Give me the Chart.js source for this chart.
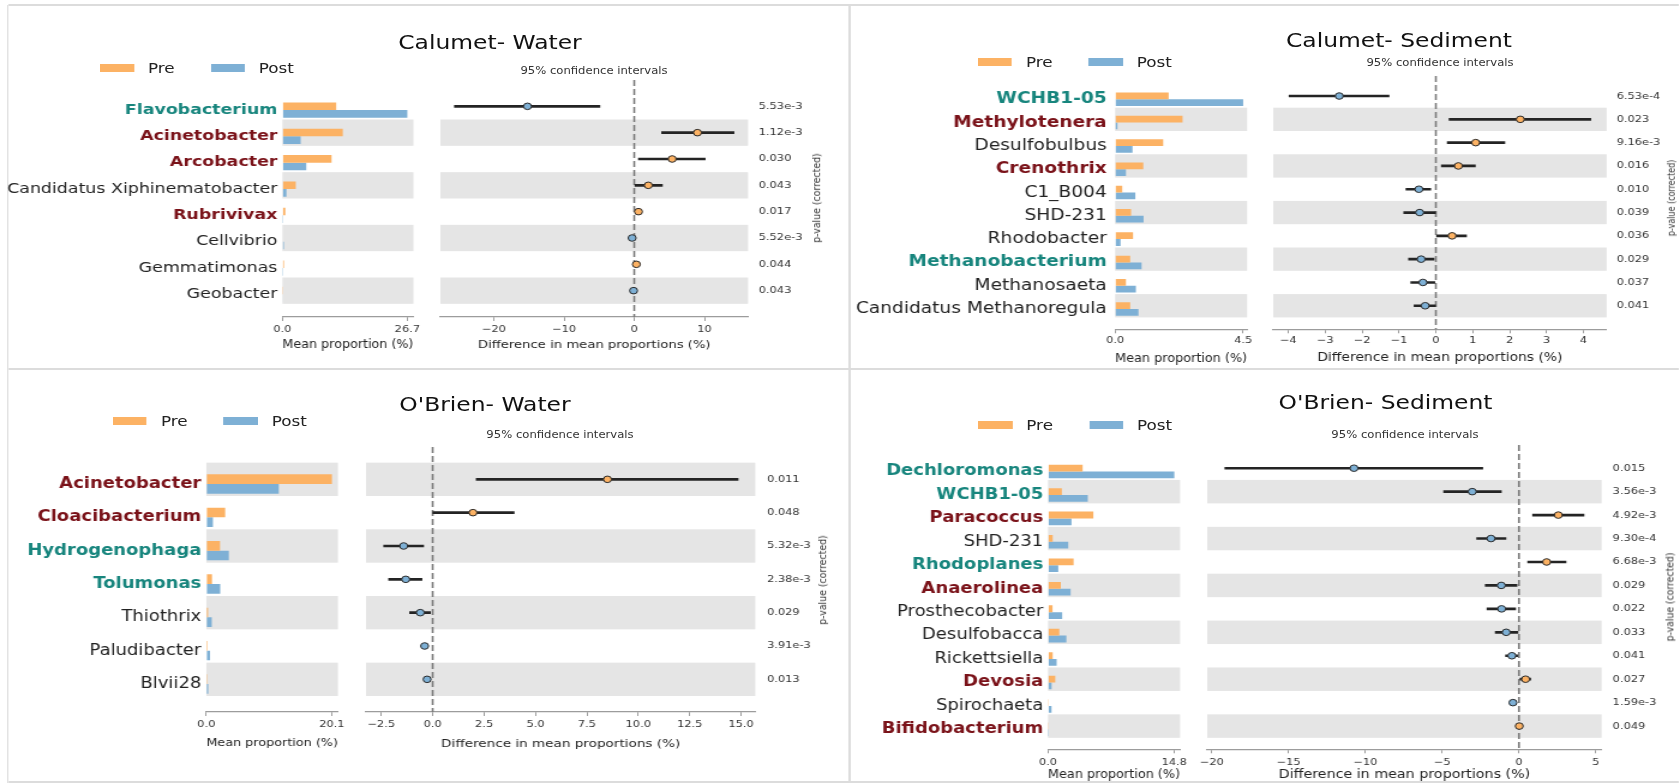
<!DOCTYPE html>
<html lang="en">
<head>
<meta charset="utf-8">
<title>Pre vs Post genus shifts – Calumet and O'Brien</title>
<script src="https://cdn.jsdelivr.net/npm/chart.js@4.4.1/dist/chart.umd.min.js"></script>
<style>
  html, body { margin: 0; padding: 0; background: #fff; }
  body { width: 1679px; height: 783px; overflow: hidden; position: relative;
         font-family: 'DejaVu Sans', sans-serif; color: #222; }
  #sheet { position: absolute; left: 0; top: 0; height: 783px; transform-origin: 0 0; }
  #sheet > * { position: absolute; }
  .txt { white-space: nowrap; line-height: 1; }
  .rule { background: #dcdcdc; }
  .legend { display: flex; align-items: center; white-space: nowrap; line-height: 1; }
  .legend .sw { display: inline-block; height: 8px; }
</style>
</head>
<body>
<div id="sheet"></div>
<script>
// ---------------------------------------------------------------------------
// Data
// ---------------------------------------------------------------------------
const SERIES = ['Pre', 'Post'];

// Calumet – water
const calWaterTaxa = ['Flavobacterium', 'Acinetobacter', 'Arcobacter', 'Candidatus Xiphinematobacter',
                      'Rubrivivax', 'Cellvibrio', 'Gemmatimonas', 'Geobacter'];
const calWaterMarks = ['A', 'B', 'B', '', 'B', '', '', ''];
const calWaterPre   = [11.5, 12.9, 10.5, 2.85, 0.62, 0.0, 0.32, 0.04];
const calWaterPost  = [26.7, 3.9, 5.1, 0.85, 0.02, 0.3, 0.02, 0.14];
const calWaterDiff  = [-15.2, 9.0, 5.4, 2.0, 0.6, -0.3, 0.3, -0.1];
const calWaterCiLow = [-25.6, 3.9, 0.6, 0.1, 0.35, -0.45, 0.1, -0.17];
const calWaterCiHigh= [-4.9, 14.2, 10.1, 4.0, 0.85, -0.12, 0.5, -0.03];
const calWaterP     = ['5.53e-3', '1.12e-3', '0.030', '0.043', '0.017', '5.52e-3', '0.044', '0.043'];
const calWaterMeanTicks = [0.0, 26.7];
const calWaterMeanMax   = 28.0;
const calWaterDiffTicks = [-20, -10, 0, 10];
const calWaterDiffRange = [-27.6, 16.2];

// Calumet – sediment
const calSedTaxa = ['WCHB1-05', 'Methylotenera', 'Desulfobulbus', 'Crenothrix', 'C1_B004', 'SHD-231',
                    'Rhodobacter', 'Methanobacterium', 'Methanosaeta', 'Candidatus Methanoregula'];
const calSedMarks = ['A', 'B', '', 'B', '', '', '', 'A', '', ''];
const calSedPre   = [1.88, 2.37, 1.69, 0.99, 0.25, 0.56, 0.63, 0.53, 0.38, 0.53];
const calSedPost  = [4.5, 0.08, 0.61, 0.38, 0.71, 1.0, 0.19, 0.93, 0.73, 0.82];
const calSedDiff  = [-2.62, 2.29, 1.08, 0.61, -0.46, -0.44, 0.44, -0.40, -0.35, -0.29];
const calSedCiLow = [-3.98, 0.36, 0.31, 0.15, -0.81, -0.87, 0.02, -0.74, -0.68, -0.59];
const calSedCiHigh= [-1.27, 4.2, 1.87, 1.07, -0.14, -0.01, 0.83, -0.05, -0.03, -0.01];
const calSedP     = ['6.53e-4', '0.023', '9.16e-3', '0.016', '0.010', '0.039', '0.036', '0.029', '0.037', '0.041'];
const calSedMeanTicks = [0.0, 4.5];
const calSedMeanMax   = 4.64;
const calSedDiffTicks = [-4, -3, -2, -1, 0, 1, 2, 3, 4];
const calSedDiffRange = [-4.41, 4.63];

// O'Brien – water
const obWaterTaxa = ['Acinetobacter', 'Cloacibacterium', 'Hydrogenophaga', 'Tolumonas',
                     'Thiothrix', 'Paludibacter', 'Blvii28'];
const obWaterMarks = ['B', 'B', 'A', 'A', '', '', ''];
const obWaterPre   = [20.1, 3.02, 2.19, 0.91, 0.27, 0.2, 0.03];
const obWaterPost  = [11.6, 1.06, 3.6, 2.22, 0.87, 0.59, 0.3];
const obWaterDiff  = [8.5, 1.96, -1.41, -1.31, -0.6, -0.39, -0.27];
const obWaterCiLow = [2.12, 0.01, -2.38, -2.14, -1.12, -0.5, -0.35];
const obWaterCiHigh= [14.85, 3.96, -0.44, -0.52, -0.11, -0.28, -0.19];
const obWaterP     = ['0.011', '0.048', '5.32e-3', '2.38e-3', '0.029', '3.91e-3', '0.013'];
const obWaterMeanTicks = [0.0, 20.1];
const obWaterMeanMax   = 21.06;
const obWaterDiffTicks = [-2.5, 0, 2.5, 5, 7.5, 10, 12.5, 15];
const obWaterDiffRange = [-3.24, 15.69];

// O'Brien – sediment
const obSedTaxa = ['Dechloromonas', 'WCHB1-05', 'Paracoccus', 'SHD-231', 'Rhodoplanes', 'Anaerolinea',
                   'Prosthecobacter', 'Desulfobacca', 'Rickettsiella', 'Devosia', 'Spirochaeta', 'Bifidobacterium'];
const obSedMarks = ['A', 'A', 'B', '', 'A', 'B', '', '', '', 'B', '', 'B'];
const obSedPre   = [4.06, 1.62, 5.31, 0.55, 3.0, 1.5, 0.53, 1.32, 0.55, 0.85, 0.02, 0.03];
const obSedPost  = [14.8, 4.66, 2.75, 2.37, 1.2, 2.65, 1.66, 2.15, 1.01, 0.42, 0.41, 0.01];
const obSedDiff  = [-10.74, -3.04, 2.56, -1.82, 1.8, -1.15, -1.13, -0.83, -0.46, 0.43, -0.39, 0.02];
const obSedCiLow = [-19.14, -4.9, 0.89, -2.75, 0.57, -2.19, -2.08, -1.54, -0.87, 0.07, -0.55, 0.0];
const obSedCiHigh= [-2.36, -1.15, 4.23, -0.85, 3.06, -0.13, -0.22, -0.07, -0.09, 0.76, -0.25, 0.05];
const obSedP     = ['0.015', '3.56e-3', '4.92e-3', '9.30e-4', '6.68e-3', '0.029', '0.022', '0.033',
                    '0.041', '0.027', '1.59e-3', '0.049'];
const obSedMeanTicks = [0.0, 14.8];
const obSedMeanMax   = 15.47;
const obSedDiffTicks = [-20, -15, -10, -5, 0, 5];
const obSedDiffRange = [-20.29, 5.38];

// ---------------------------------------------------------------------------
// Styling
// ---------------------------------------------------------------------------
const S = 1.2;                       // horizontal stretch of the whole sheet
const U = x => x / S;                // sheet x -> unstretched css px
const SERIES_COLORS = ['#fcb264', '#7eb0d5'];
const MARK_COLORS = { A: '#17857d', B: '#7a1219' };
const LABEL_COLOR = '#222';
const BAND = '#e5e5e5';
const AXIS_COLOR = '#9c9c9c';
const TICK_LEN = 4;
const TICK_SIZE = 9.5;
const BAR_SHIFT = 0.14;              // bars sit slightly below the band centre

Chart.defaults.font.family = "'DejaVu Sans', sans-serif";
Chart.defaults.color = '#333';

const sheet = document.getElementById('sheet');
sheet.style.width = U(1679) + 'px';
sheet.style.transform = `scaleX(${S})`;

// Alternating grey row bands (last row always shaded)
const rowBands = {
  id: 'rowBands',
  beforeDatasetsDraw(chart, _a, o) {
    const { ctx, chartArea: a } = chart; const y = chart.scales.y;
    ctx.save(); ctx.fillStyle = o.color;
    for (let i = 0; i < o.count; i++) {
      if ((o.count - 1 - i) % 2) continue;
      const t = y.getPixelForValue(i - 0.5 + o.shift), b = y.getPixelForValue(i + 0.5 + o.shift);
      ctx.fillRect(a.left, Math.min(t, b), a.right - a.left, Math.abs(b - t));
    }
    ctx.restore();
  }
};

// Dashed reference line at zero difference
const zeroLine = {
  id: 'zeroLine',
  beforeDatasetsDraw(chart, _a, o) {
    const { ctx, chartArea: a } = chart; const x = chart.scales.x.getPixelForValue(0);
    ctx.save(); ctx.strokeStyle = o.color; ctx.lineWidth = o.width; ctx.setLineDash(o.dash);
    ctx.beginPath(); ctx.moveTo(x, a.top); ctx.lineTo(x, a.bottom); ctx.stroke(); ctx.restore();
  }
};

const BASE = {
  responsive: false, animation: false, devicePixelRatio: 1, events: [],
};

function addCanvas(x0, y0, x1, y1) {
  const c = document.createElement('canvas');
  const w = Math.round(U(x1) - U(x0)), h = Math.round(y1 - y0);
  c.width = w; c.height = h;
  c.style.cssText = `left:${U(x0)}px;top:${y0}px;width:${w}px;height:${h}px;`;
  sheet.appendChild(c);
  return c;
}

function addText(str, cx, cy, size, color, rot) {
  const el = document.createElement('div');
  el.className = 'txt'; el.textContent = str;
  el.style.left = U(cx) + 'px'; el.style.top = cy + 'px';
  el.style.fontSize = size + 'px'; el.style.color = color;
  el.style.transform = 'translate(-50%,-50%)' + (rot ? ` rotate(${rot}deg)` : '');
  sheet.appendChild(el);
}

function addLegend(x, cy) {
  const el = document.createElement('div');
  el.className = 'legend';
  el.style.left = U(x) + 'px'; el.style.top = cy + 'px'; el.style.transform = 'translateY(-50%)';
  SERIES.forEach((name, k) => {
    const sw = document.createElement('span');
    sw.className = 'sw'; sw.style.width = U(34) + 'px'; sw.style.background = SERIES_COLORS[k];
    sw.style.marginRight = U(14) + 'px';
    const tx = document.createElement('span');
    tx.textContent = name; tx.style.fontSize = '14px'; tx.style.color = '#222';
    if (k < SERIES.length - 1) tx.style.marginRight = U(36) + 'px';
    el.append(sw, tx);
  });
  sheet.appendChild(el);
}

function addRule(x0, y0, x1, y1) {
  const el = document.createElement('div');
  el.className = 'rule';
  if (y0 === y1) { el.style.cssText = `left:${U(x0)}px;top:${y0 - 0.75}px;width:${U(x1 - x0)}px;height:1.5px;`; }
  else { el.style.cssText = `left:${U(x0 - 0.75)}px;top:${y0}px;width:${U(1.5)}px;height:${y1 - y0}px;`; }
  sheet.appendChild(el);
}

const minusSign = s => String(s).replace('-', '\u2212');
const tickIdx = c => (c.tick ? c.tick.value : c.index);

function valueAxis(o) {
  return {
    type: 'linear', position: 'bottom', min: o.min, max: o.max, offset: false, bounds: 'data',
    afterBuildTicks: s => { s.ticks = o.ticks.map(v => ({ value: v })); },
    afterFit: s => { s.height = o.height; },
    grid: { display: true, drawOnChartArea: false, drawTicks: true, tickLength: TICK_LEN,
            tickColor: AXIS_COLOR, tickWidth: 1, offset: false },
    border: { display: true, color: AXIS_COLOR, width: 1.2 },
    ticks: { autoSkip: false, maxRotation: 0, minRotation: 0, padding: o.tickPad, color: '#333',
             font: { size: TICK_SIZE }, callback: o.fmt },
    title: { display: true, text: o.title, color: '#222', font: { size: o.titleSize },
             padding: { top: 0, bottom: o.titlePad } }
  };
}

// Left half of a panel: mean proportion bars per genus
function drawMeans(P, g, n) {
  const x0 = g.canvasLeft, x1 = g.barR + 16;
  const y0 = g.rowTop - 24, y1 = Math.min(g.meanTitleY + 11, 783);
  const cv = addCanvas(x0, y0, x1, y1);
  const W = cv.width, H = cv.height;
  new Chart(cv, {
    type: 'bar',
    data: {
      datasets: [P.pre, P.post].map((vals, k) => ({
        label: SERIES[k], data: vals.map((v, i) => ({ x: v, y: i })),
        backgroundColor: SERIES_COLORS[k], borderWidth: 0,
        categoryPercentage: 0.58, barPercentage: 1
      }))
    },
    options: {
      ...BASE, indexAxis: 'y',
      layout: { padding: { left: 0, top: g.rowTop - y0, right: W - (U(g.barR) - U(x0)), bottom: 0 } },
      plugins: { legend: { display: false }, tooltip: { enabled: false },
                 rowBands: { count: n, shift: -BAR_SHIFT, color: BAND } },
      scales: {
        x: valueAxis({
          min: 0, max: P.meanMax, ticks: P.meanTicks, fmt: v => v.toFixed(1),
          height: H - (g.rowBottom - y0),
          tickPad: g.tickY - g.rowBottom - TICK_LEN - 0.6 * TICK_SIZE,
          title: 'Mean proportion (%)', titleSize: g.meanTitleSize,
          titlePad: H - (g.meanTitleY - y0) - 0.6 * g.meanTitleSize
        }),
        y: {
          type: 'linear', position: 'left', reverse: true, offset: false, bounds: 'data',
          min: g.yMin - BAR_SHIFT, max: g.yMax - BAR_SHIFT,
          afterBuildTicks: s => { s.ticks = P.taxa.map((_, i) => ({ value: i })); },
          afterFit: s => { s.width = U(g.barL) - U(x0); },
          grid: { display: false, drawTicks: false }, border: { display: false },
          ticks: {
            autoSkip: false, padding: U(g.barL) - U(g.labelRight),
            callback: v => P.taxa[v],
            color: c => MARK_COLORS[P.marks[tickIdx(c)]] || LABEL_COLOR,
            font: c => ({ size: g.labelSize, weight: P.marks[tickIdx(c)] ? 'bold' : 'normal' })
          }
        }
      }
    },
    plugins: [rowBands]
  });
}

// Right half of a panel: difference in means with 95% CI, p-values on the right axis
function drawDiffs(P, g, n) {
  const x0 = g.forestL - 24, x1 = Math.min(g.forestR + 64, 1679);
  const y0 = g.rowTop - 24, y1 = Math.min(g.diffTitleY + 11, 783);
  const cv = addCanvas(x0, y0, x1, y1);
  const W = cv.width, H = cv.height;
  const fmt = v => minusSign(P.diffDecimals ? v.toFixed(P.diffDecimals) : String(v));
  new Chart(cv, {
    type: 'bar',
    data: {
      datasets: [
        { type: 'scatter', data: P.diff.map((v, i) => ({ x: v, y: i })),
          pointRadius: 3.3, pointBorderWidth: 1, pointBorderColor: '#2a2a2a',
          pointBackgroundColor: P.diff.map(v => (v >= 0 ? SERIES_COLORS[0] : SERIES_COLORS[1])),
          order: 0 },
        { type: 'bar', data: P.lo.map((l, i) => ({ x: [l, P.hi[i]], y: i })),
          backgroundColor: '#242424', borderWidth: 0, barThickness: 2, order: 1 }
      ]
    },
    options: {
      ...BASE, indexAxis: 'y',
      layout: { padding: { left: U(24), top: g.rowTop - y0, right: 0, bottom: 0 } },
      plugins: { legend: { display: false }, tooltip: { enabled: false },
                 rowBands: { count: n, shift: 0, color: BAND },
                 zeroLine: { color: '#7a7a7a', width: 1.6, dash: [6, 3] } },
      scales: {
        x: valueAxis({
          min: P.diffRange[0], max: P.diffRange[1], ticks: P.diffTicks, fmt,
          height: H - (g.rowBottom - y0),
          tickPad: g.tickY - g.rowBottom - TICK_LEN - 0.6 * TICK_SIZE,
          title: 'Difference in mean proportions (%)', titleSize: g.diffTitleSize,
          titlePad: H - (g.diffTitleY - y0) - 0.6 * g.diffTitleSize
        }),
        y: {
          type: 'linear', position: 'right', reverse: true, offset: false, bounds: 'data',
          min: g.yMin, max: g.yMax,
          afterBuildTicks: s => { s.ticks = P.pvals.map((_, i) => ({ value: i })); },
          afterFit: s => { s.width = W - (U(g.forestR) - U(x0)); },
          grid: { display: false, drawTicks: false }, border: { display: false },
          ticks: { autoSkip: false, padding: U(g.pX) - U(g.forestR), color: '#333',
                   font: { size: TICK_SIZE }, callback: v => P.pvals[v] }
        }
      }
    },
    plugins: [rowBands, zeroLine]
  });
}

// ---------------------------------------------------------------------------
// Panels
// ---------------------------------------------------------------------------
const PANELS = [
  { title: 'Calumet- Water', taxa: calWaterTaxa, marks: calWaterMarks, pre: calWaterPre, post: calWaterPost,
    diff: calWaterDiff, lo: calWaterCiLow, hi: calWaterCiHigh, pvals: calWaterP,
    meanTicks: calWaterMeanTicks, meanMax: calWaterMeanMax, diffTicks: calWaterDiffTicks,
    diffRange: calWaterDiffRange, diffDecimals: 0,
    geo: { titleX: 490, titleY: 43, legendX: 100, legendY: 68, rowTop: 80, rowBottom: 317, yMin: -1.0, yMax: 8.0,
           canvasLeft: 2, barL: 282, barR: 413, labelRight: 277, labelSize: 14.5,
           forestL: 440.7, forestR: 748.3, pX: 759, pLabelX: 816, pLabelY: 198, pLabelSize: 9.4,
           ciX: 594, ciY: 71, tickY: 330, meanTitleY: 345, diffTitleY: 345.5, meanTitleSize: 12, diffTitleSize: 11 } },
  { title: 'Calumet- Sediment', taxa: calSedTaxa, marks: calSedMarks, pre: calSedPre, post: calSedPost,
    diff: calSedDiff, lo: calSedCiLow, hi: calSedCiHigh, pvals: calSedP,
    meanTicks: calSedMeanTicks, meanMax: calSedMeanMax, diffTicks: calSedDiffTicks,
    diffRange: calSedDiffRange, diffDecimals: 0,
    geo: { titleX: 1399, titleY: 41, legendX: 978, legendY: 62, rowTop: 76, rowBottom: 329.3, yMin: -0.86, yMax: 10.01,
           canvasLeft: 851, barL: 1115.3, barR: 1247.3, labelRight: 1107, labelSize: 15.5,
           forestL: 1273.3, forestR: 1606.7, pX: 1616.7, pLabelX: 1673, pLabelY: 198, pLabelSize: 8,
           ciX: 1440, ciY: 63.3, tickY: 340.7, meanTitleY: 359.3, diffTitleY: 357.7, meanTitleSize: 12, diffTitleSize: 11.6 } },
  { title: "O'Brien- Water", taxa: obWaterTaxa, marks: obWaterMarks, pre: obWaterPre, post: obWaterPost,
    diff: obWaterDiff, lo: obWaterCiLow, hi: obWaterCiHigh, pvals: obWaterP,
    meanTicks: obWaterMeanTicks, meanMax: obWaterMeanMax, diffTicks: obWaterDiffTicks,
    diffRange: obWaterDiffRange, diffDecimals: 1,
    geo: { titleX: 485, titleY: 405, legendX: 113, legendY: 420.7, rowTop: 446.7, rowBottom: 711.7, yMin: -0.97, yMax: 6.98,
           canvasLeft: 10, barL: 206.7, barR: 338.3, labelRight: 201.7, labelSize: 15,
           forestL: 365.7, forestR: 755, pX: 766.7, pLabelX: 821.7, pLabelY: 580, pLabelSize: 9.4,
           ciX: 560, ciY: 435.3, tickY: 724.3, meanTitleY: 743.3, diffTitleY: 743.3, meanTitleSize: 10.8, diffTitleSize: 11.3 } },
  { title: "O'Brien- Sediment", taxa: obSedTaxa, marks: obSedMarks, pre: obSedPre, post: obSedPost,
    diff: obSedDiff, lo: obSedCiLow, hi: obSedCiHigh, pvals: obSedP,
    meanTicks: obSedMeanTicks, meanMax: obSedMeanMax, diffTicks: obSedDiffTicks,
    diffRange: obSedDiffRange, diffDecimals: 0,
    geo: { titleX: 1385.5, titleY: 402.7, legendX: 978.3, legendY: 424.7, rowTop: 445, rowBottom: 749.3, yMin: -0.99, yMax: 11.99,
           canvasLeft: 852, barL: 1048, barR: 1180, labelRight: 1043.3, labelSize: 15,
           forestL: 1207.3, forestR: 1601.7, pX: 1612.7, pLabelX: 1669.3, pLabelY: 597.3, pLabelSize: 9.3,
           ciX: 1405, ciY: 434.7, tickY: 762.3, meanTitleY: 775, diffTitleY: 775, meanTitleSize: 12.5, diffTitleSize: 11.9 } }
];

// Panel frame lines
addRule(8, 5, 1679, 5);
addRule(8, 369, 1679, 369);
addRule(8, 782, 1679, 782);
addRule(8, 5, 8, 783);
addRule(849.5, 5, 849.5, 783);

PANELS.forEach(P => {
  const g = P.geo, n = P.taxa.length;
  drawMeans(P, g, n);
  drawDiffs(P, g, n);
  addText(P.title, g.titleX, g.titleY, 19.5, '#111');
  addLegend(g.legendX, g.legendY);
  addText('95% confidence intervals', g.ciX, g.ciY, 9.7, '#333');
  addText('p-value (corrected)', g.pLabelX, g.pLabelY, g.pLabelSize, '#333', -90);
});
</script>
</body>
</html>
